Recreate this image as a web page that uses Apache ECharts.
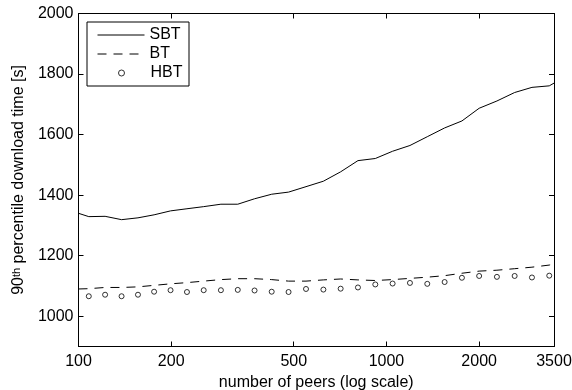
<!DOCTYPE html>
<html>
<head>
<meta charset="utf-8">
<script src="https://cdn.jsdelivr.net/npm/echarts@6/dist/echarts.min.js"></script>
<style>
  html, body { margin: 0; padding: 0; background: #fff; }
  #chart { width: 572px; height: 390px; }
</style>
</head>
<body>
<div id="chart"></div>
<script>
// x positions of the curves (number of peers)
const linePeers = [100, 108, 122, 138, 156, 176, 199, 225, 255, 290, 329, 373, 424, 481, 548,
  624, 710, 808, 920, 1047, 1192, 1357, 1545, 1758, 2000, 2284, 2608, 2968, 3378, 3500];
const markerPeers = [108, 122, 138, 156, 176, 199, 225, 255, 290, 329, 373, 424, 481, 548,
  624, 710, 808, 920, 1047, 1192, 1357, 1545, 1758, 2000, 2284, 2608, 2968, 3378];

const sbt = [1340, 1329, 1330, 1319, 1325, 1335, 1348, 1355, 1362, 1370, 1370, 1388, 1403, 1410, 1428,
  1446, 1477, 1514, 1521, 1545, 1564, 1593, 1622, 1645, 1687, 1711, 1739, 1756, 1761, 1770];
const bt = [1090, 1091, 1095, 1095, 1097, 1102, 1107, 1111, 1116, 1121, 1124, 1124, 1121, 1116, 1116,
  1120, 1123, 1120, 1118, 1121, 1125, 1129, 1134, 1142, 1149, 1152, 1157, 1162, 1169, 1173];
const hbt = [1066, 1071, 1066, 1071, 1081, 1086, 1080, 1086, 1086, 1087, 1085, 1081, 1080, 1090,
  1088, 1091, 1095, 1105, 1108, 1110, 1107, 1113, 1127, 1133, 1130, 1133, 1128, 1134];

const xTicks = [100, 200, 500, 1000, 2000, 3500];
const yTicks = [1000, 1200, 1400, 1600, 1800, 2000];

const font = "'Liberation Sans', Arial, Helvetica, sans-serif";
const black = "#000";
const fs = 16;

const chart = echarts.init(document.getElementById("chart"), null, { renderer: "canvas" });

// box axes with inward ticks on all four sides
const baseX = {
  type: "log",
  min: 100,
  max: 3500,
  axisLine: { show: true, onZero: false, lineStyle: { color: black, width: 1 } },
  axisTick: { show: true, inside: true, length: 5, customValues: xTicks, lineStyle: { color: black } },
  splitLine: { show: false },
  minorTick: { show: false },
};
const baseY = {
  type: "value",
  min: 900,
  max: 2000,
  axisLine: { show: true, onZero: false, lineStyle: { color: black, width: 1 } },
  axisTick: { show: true, inside: true, length: 5, customValues: yTicks, lineStyle: { color: black } },
  splitLine: { show: false },
};

chart.setOption({
  animation: false,
  backgroundColor: "#fff",
  textStyle: { fontFamily: font, color: black },
  grid: { left: 78.5, right: 18, top: 13.5, bottom: 43.5, containLabel: false, outerBoundsMode: "none" },
  xAxis: [
    Object.assign({}, baseX, {
      position: "bottom",
      axisLabel: {
        show: true, customValues: xTicks, margin: 7, fontSize: fs, color: black, fontFamily: font,
        formatter: (v) => String(Math.round(v)),
      },
      name: "number of peers (log scale)",
      nameLocation: "middle",
      nameGap: 24.5,
      nameTextStyle: { fontSize: fs, color: black, fontFamily: font },
    }),
    Object.assign({}, baseX, {
      position: "top",
      axisLabel: { show: false },
    }),
  ],
  yAxis: [
    Object.assign({}, baseY, {
      position: "left",
      axisLabel: {
        show: true, customValues: yTicks, margin: 5, fontSize: fs, color: black, fontFamily: font,
        formatter: (v) => String(Math.round(v)),
      },
      name: "{n|90}{s|th}{n| percentile download time [s]}",
      nameLocation: "middle",
      nameGap: 34,
      nameTextStyle: {
        color: black,
        fontFamily: font,
        rich: {
          n: { fontSize: fs, fontFamily: font, color: black },
          s: { fontSize: 11, fontFamily: font, color: black, verticalAlign: "top" },
        },
      },
    }),
    Object.assign({}, baseY, {
      position: "right",
      axisLabel: { show: false },
    }),
  ],
  // legend frame
  graphic: [{
    type: "rect",
    z: 3,
    shape: { x: 87, y: 22, width: 102, height: 64 },
    style: { fill: "#fff", stroke: black, lineWidth: 1 },
  }],
  legend: [
    {
      data: ["SBT", "BT"],
      orient: "vertical",
      left: 97,
      top: 27,
      padding: 0,
      itemWidth: 47,
      itemHeight: 14,
      itemGap: 3,
      z: 5,
      itemStyle: { opacity: 0 },
      lineStyle: { width: 1 },
      textStyle: { fontSize: fs, color: black, fontFamily: font },
    },
    {
      data: ["HBT"],
      orient: "vertical",
      left: 118,
      top: 65,
      padding: 0,
      itemWidth: 6,
      itemHeight: 6,
      z: 5,
      itemStyle: { color: "#fff", borderColor: black, borderWidth: 1 },
      textStyle: { fontSize: fs, color: black, fontFamily: font, padding: [0, 0, 0, 21] },
    },
  ],
  series: [
    {
      name: "SBT",
      type: "line",
      data: sbt.map((v, i) => [linePeers[i], v]),
      symbol: "none",
      lineStyle: { color: black, width: 1 },
      itemStyle: { color: black },
    },
    {
      name: "BT",
      type: "line",
      data: bt.map((v, i) => [linePeers[i], v]),
      symbol: "none",
      lineStyle: { color: black, width: 1, type: [9, 7] },
      itemStyle: { color: black },
    },
    {
      name: "HBT",
      type: "scatter",
      data: hbt.map((v, i) => [markerPeers[i], v]),
      symbol: "circle",
      symbolSize: 5,
      itemStyle: { color: "#fff", borderColor: black, borderWidth: 1 },
    },
  ],
});
</script>
</body>
</html>
